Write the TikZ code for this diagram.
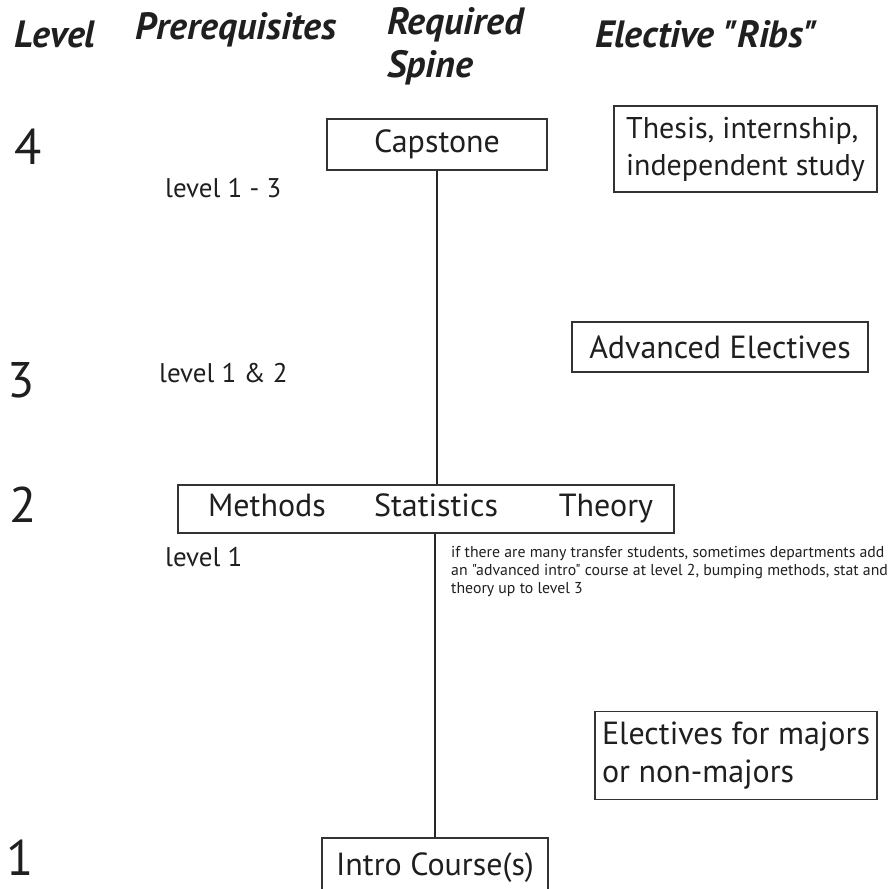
\documentclass[tikz,border=0pt]{standalone}
\usepackage{fontspec}
\setmainfont{PT Sans}[Ligatures=TeXOff]
\begin{document}
\begin{tikzpicture}[x=1pt,y=-1pt,
  box/.style={draw=black!80,line width=1.2pt,inner sep=0pt},
  head/.style={font=\fontsize{38}{43}\selectfont\bfseries\itshape,text=black!88,inner sep=0pt},
  lvl/.style={font=\fontsize{50}{52}\selectfont,text=black!88,inner sep=0pt},
  pre/.style={font=\fontsize{27}{29}\selectfont,text=black!88,inner sep=0pt,anchor=west},
  btxt/.style={font=\fontsize{32}{38}\selectfont,text=black!88},
  spine/.style={draw=black!85,line width=2pt}]
\useasboundingbox (0,0) rectangle (893,888);
\clip (0,0) rectangle (893,888);
% headings
\node[head] (hlevel) at (55,34) {Level};
\node[head] (hpre) at (236,30) {Prerequisites};
\node[head,align=left,anchor=west] (hspine) at (387,46) {Required\\Spine};
\node[head] (hrib) at (706,34) {Elective "Ribs"};
% level numbers
\node[lvl] (l4) at (28,147) {4};
\node[lvl] (l3) at (21,380) {3};
\node[lvl] (l2) at (23,505) {2};
\node[lvl] (l1) at (20,858) {1};
% prerequisites
\node[pre] (p4) at (165,188) {level 1 - 3};
\node[pre] (p3) at (159,373) {level 1 \& 2};
\node[pre] (p2) at (165,557) {level 1};
% spine boxes
\node[box,btxt,minimum width=220pt,minimum height=51pt] (cap) at (437,144.5) {Capstone};
\node[box,minimum width=496pt,minimum height=48pt] (mst) at (426,509) {};
\node[btxt,anchor=base,inner sep=0pt] (meth) at (267,516) {Methods};
\node[btxt,anchor=base,inner sep=0pt] (stat) at (436,516) {Statistics};
\node[btxt,anchor=base,inner sep=0pt] (theo) at (606,516) {Theory};
\node[box,btxt,minimum width=226pt,minimum height=60pt] (intro) at (435,868) {Intro Course(s)};
% ribs
\node[box,btxt,font=\fontsize{30}{37}\selectfont,align=left,minimum width=263pt,minimum height=86pt] (thesis) at (745.5,149) {Thesis, internship,\\independent study};
\node[box,btxt,minimum width=296pt,minimum height=50pt] (adv) at (720,347) {Advanced Electives};
\node[box,btxt,align=left,minimum width=282pt,minimum height=88pt] (maj) at (736,755.5) {Electives for majors\\or non-majors};
% note
\node[anchor=north west,align=left,inner sep=0pt,font=\fontsize{15.8}{18}\selectfont,text=black!88] (note) at (451,546) {if there are many transfer students, sometimes departments add\\an "advanced intro" course at level 2, bumping methods, stat and\\theory up to level 3};
% spine
\draw[spine] (cap.south) -- (cap.south |- mst.north);
\draw[spine] (intro.north |- mst.south) -- (intro.north);
\end{tikzpicture}
\end{document}
